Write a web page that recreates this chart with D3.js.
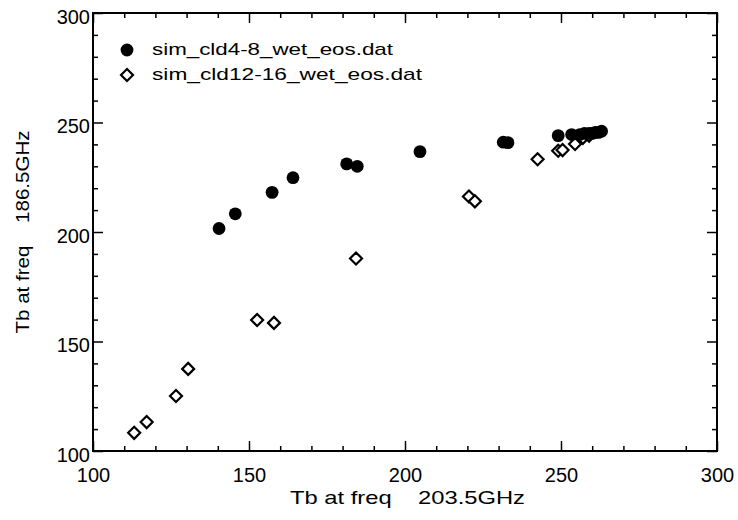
<!DOCTYPE html>
<html>
<head>
<meta charset="utf-8">
<script src="https://cdn.jsdelivr.net/npm/d3@7"></script>
<style>
  html, body { margin: 0; padding: 0; background: #fff; }
  svg { display: block; }
  text { font-family: "Liberation Sans", "DejaVu Sans", sans-serif; fill: #000; }
</style>
</head>
<body>
<svg id="chart" width="738" height="520"></svg>
<script>
// ---- data ----
const seriesNames = ["sim_cld4-8_wet_eos.dat", "sim_cld12-16_wet_eos.dat"];
const cld48X = [140.4, 145.6, 157.4, 164.1, 181.3, 184.7, 204.8, 231.5, 233.0, 249.1, 253.4, 256.0, 257.5, 259.0, 260.0, 261.0, 262.0, 263.0];
const cld48Y = [201.6, 208.3, 218.1, 224.8, 231.1, 230.0, 236.7, 241.0, 240.8, 244.0, 244.5, 244.5, 245.0, 245.0, 245.0, 245.5, 245.5, 246.0];
const cld1216X = [113.2, 117.2, 126.6, 130.5, 152.6, 158.0, 184.3, 220.5, 222.4, 242.5, 249.1, 250.5, 254.5, 257.0, 259.0];
const cld1216Y = [108.3, 113.2, 125.1, 137.5, 159.8, 158.5, 187.9, 216.2, 214.0, 233.2, 237.1, 237.4, 240.2, 243.0, 244.0];
const xMajorTicks = [100, 150, 200, 250, 300];
const yMajorTicks = [100, 150, 200, 250, 300];
const xMinorTicks = d3.range(100, 301, 10);
const yMinorTicks = d3.range(100, 301, 10);
const xTitle = "Tb at freq    203.5GHz";
const yTitle = "Tb at freq    186.5GHz";

(function () {
// ---- layout ----
const mLeft = 93, mRight = 717, mTop = 13, mBottom = 451;
const svg = d3.select("#chart");
const x = d3.scaleLinear().domain([100, 300]).range([mLeft, mRight]);
const y = d3.scaleLinear().domain([100, 300]).range([mBottom, mTop]);

// frame
svg.append("rect")
  .attr("x", mLeft).attr("y", mTop)
  .attr("width", mRight - mLeft).attr("height", mBottom - mTop)
  .attr("fill", "none").attr("stroke", "#000").attr("stroke-width", 2);

function styleAxis(g) {
  g.select(".domain").remove();
  g.selectAll(".tick line").attr("stroke", "#000").attr("stroke-width", 1.5);
  g.selectAll(".tick text").style("font-size", "20px").attr("fill", "#000");
}

// bottom axis
svg.append("g").attr("transform", `translate(0,${mBottom})`)
  .call(d3.axisBottom(x).tickValues(xMajorTicks).tickSizeInner(-10).tickSizeOuter(0).tickPadding(17).tickFormat(d3.format("d")))
  .call(styleAxis);
svg.append("g").attr("transform", `translate(0,${mBottom})`)
  .call(d3.axisBottom(x).tickValues(xMinorTicks.filter(v => v % 50)).tickSizeInner(-5).tickSizeOuter(0).tickFormat(""))
  .call(styleAxis);
// top axis
svg.append("g").attr("transform", `translate(0,${mTop})`)
  .call(d3.axisTop(x).tickValues(xMajorTicks).tickSizeInner(-10).tickSizeOuter(0).tickFormat(""))
  .call(styleAxis);
svg.append("g").attr("transform", `translate(0,${mTop})`)
  .call(d3.axisTop(x).tickValues(xMinorTicks.filter(v => v % 50)).tickSizeInner(-5).tickSizeOuter(0).tickFormat(""))
  .call(styleAxis);
// left axis
svg.append("g").attr("transform", `translate(${mLeft},0)`)
  .call(d3.axisLeft(y).tickValues(yMajorTicks).tickSizeInner(-10).tickSizeOuter(0).tickPadding(3).tickFormat(d3.format("d")))
  .call(styleAxis)
  .call(g => g.selectAll(".tick text").attr("dy", "0.5em"));
svg.append("g").attr("transform", `translate(${mLeft},0)`)
  .call(d3.axisLeft(y).tickValues(yMinorTicks.filter(v => v % 50)).tickSizeInner(-5).tickSizeOuter(0).tickFormat(""))
  .call(styleAxis);
// right axis
svg.append("g").attr("transform", `translate(${mRight},0)`)
  .call(d3.axisRight(y).tickValues(yMajorTicks).tickSizeInner(-10).tickSizeOuter(0).tickFormat(""))
  .call(styleAxis);
svg.append("g").attr("transform", `translate(${mRight},0)`)
  .call(d3.axisRight(y).tickValues(yMinorTicks.filter(v => v % 50)).tickSizeInner(-5).tickSizeOuter(0).tickFormat(""))
  .call(styleAxis);

// axis titles
svg.append("text")
  .attr("x", (290 + 525) / 2).attr("y", 504)
  .attr("text-anchor", "middle")
  .style("white-space", "pre")
  .attr("textLength", 235).attr("lengthAdjust", "spacingAndGlyphs")
  .style("font-size", "19px")
  .text(xTitle);
svg.append("text")
  .attr("transform", `translate(29,232) rotate(-90)`)
  .attr("text-anchor", "middle")
  .style("white-space", "pre")
  .attr("textLength", 203).attr("lengthAdjust", "spacingAndGlyphs")
  .style("font-size", "19px")
  .text(yTitle);

// symbols
const circleSym = d3.symbol().type(d3.symbolCircle).size(Math.PI * 6.4 * 6.4);
const diamondPath = s => `M0,${-s}L${s},0L0,${s}L${-s},0Z`;

const plot = svg.append("g");
plot.selectAll("path.c1216")
  .data(d3.zip(cld1216X, cld1216Y))
  .join("path").attr("class", "c1216")
  .attr("transform", d => `translate(${x(d[0])},${y(d[1])})`)
  .attr("d", diamondPath(6))
  .attr("fill", "#fff").attr("stroke", "#000").attr("stroke-width", 2.2);
plot.selectAll("path.c48")
  .data(d3.zip(cld48X, cld48Y))
  .join("path").attr("class", "c48")
  .attr("transform", d => `translate(${x(d[0])},${y(d[1])})`)
  .attr("d", circleSym())
  .attr("fill", "#000");

// legend
const legend = svg.append("g");
legend.append("path").attr("transform", "translate(127,50)").attr("d", circleSym()).attr("fill", "#000");
legend.append("path").attr("transform", "translate(127,75)").attr("d", diamondPath(6))
  .attr("fill", "#fff").attr("stroke", "#000").attr("stroke-width", 2.2);
legend.append("text").attr("x", 152).attr("y", 55)
  .attr("textLength", 241).attr("lengthAdjust", "spacingAndGlyphs")
  .style("font-size", "17px").text(seriesNames[0]);
legend.append("text").attr("x", 152).attr("y", 80)
  .attr("textLength", 270).attr("lengthAdjust", "spacingAndGlyphs")
  .style("font-size", "17px").text(seriesNames[1]);
})();
</script>
</body>
</html>
